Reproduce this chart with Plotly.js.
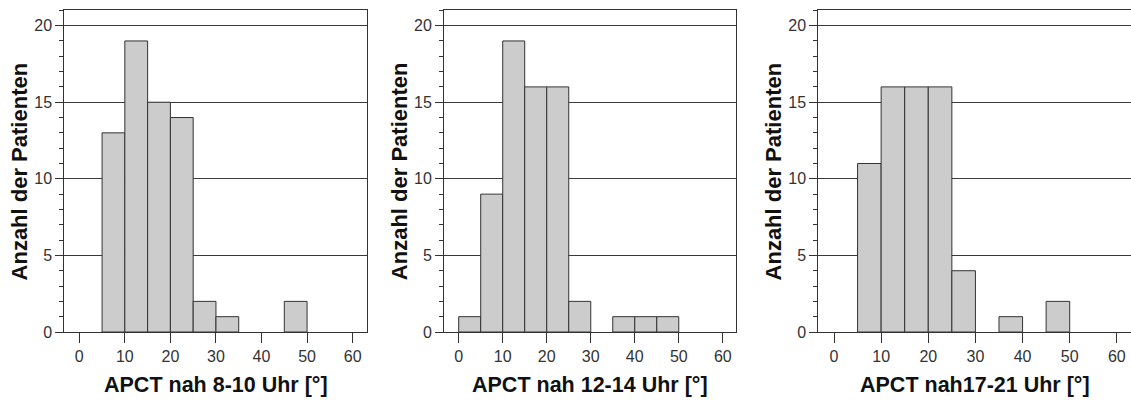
<!DOCTYPE html>
<html>
<head>
<meta charset="utf-8">
<script src="https://cdn.plot.ly/plotly-3.0.1.min.js"></script>
<style>html,body{margin:0;padding:0;background:#fff;}#chart{width:1131px;height:400px;}</style>
</head>
<body>
<div id="chart"></div>
<script>
// Histogram bins (width 5°), centres of each bin
const binCenters = [2.5, 7.5, 12.5, 17.5, 22.5, 27.5, 32.5, 37.5, 42.5, 47.5];
const counts8to10  = [0, 13, 19, 15, 14, 2, 1, 0, 0, 2];
const counts12to14 = [1, 9, 19, 16, 16, 2, 0, 1, 1, 1];
const counts17to21 = [0, 11, 16, 16, 16, 4, 0, 1, 0, 2];
const xTitles = ["APCT nah 8-10 Uhr [°]", "APCT nah 12-14 Uhr [°]", "APCT nah17-21 Uhr [°]"];
const yTitle = "Anzahl der Patienten";
const xTickVals = [0, 10, 20, 30, 40, 50, 60];
const yTickVals = [0, 5, 10, 15, 20];

const W = 1131, H = 400;
const FONT = '"Liberation Sans", Arial, sans-serif';
const panels = [
  {counts: counts8to10,  left: 64.3,  right: 366.7, range: [-3.29, 63.09]},
  {counts: counts12to14, left: 444,   right: 736,   range: [-3.34, 63.0]},
  {counts: counts17to21, left: 818.3, right: 1131,  range: [-3.33, 63.0]}
];
const yDom = [1 - 332 / H, 1 - 10.3 / H];

const data = [];
const layout = {
  width: W, height: H,
  margin: {l: 0, r: 0, t: 0, b: 0},
  paper_bgcolor: '#ffffff', plot_bgcolor: '#ffffff',
  showlegend: false,
  bargap: 0,
  font: {family: FONT, color: '#222'},
  annotations: []
};

panels.forEach((p, i) => {
  const n = i === 0 ? '' : String(i + 1);
  data.push({
    type: 'bar', x: binCenters, y: p.counts.map(c => (c === 0 ? null : c)), width: 5,
    xaxis: 'x' + n, yaxis: 'y' + n,
    marker: {color: '#cccccc', line: {color: '#333333', width: 1}},
    hoverinfo: 'x+y'
  });
  layout['xaxis' + n] = {
    domain: [p.left / W, p.right / W], range: p.range, anchor: 'y' + n,
    tickmode: 'array', tickvals: xTickVals,
    ticks: 'outside', ticklen: 10, tickwidth: 1, tickcolor: '#333',
    showline: true, mirror: true, linecolor: '#333', linewidth: 1,
    showgrid: false, zeroline: false,
    tickfont: {family: FONT, size: 16, color: '#333'}
  };
  layout['yaxis' + n] = {
    domain: yDom, range: [0, 21], anchor: 'x' + n,
    tickmode: 'array', tickvals: yTickVals,
    ticks: 'outside', ticklen: 8, tickwidth: 1, tickcolor: '#333',
    minor: {dtick: 1, tick0: 0, ticks: 'outside', ticklen: 4, tickwidth: 1, tickcolor: '#333', showgrid: false},
    showline: true, mirror: true, linecolor: '#333', linewidth: 1,
    showgrid: true, gridcolor: '#3a3a3a', gridwidth: 1, zeroline: false,
    tickfont: {family: FONT, size: 16, color: '#333'}
  };
  layout.annotations.push({
    text: '<b>' + xTitles[i] + '</b>', showarrow: false,
    xref: 'x' + n + ' domain', x: 0.5, yref: 'paper', y: 1 - 385 / H,
    xanchor: 'center', yanchor: 'middle',
    font: {family: FONT, size: 21.5, color: '#111'}
  });
  layout.annotations.push({
    text: '<b>' + yTitle + '</b>', showarrow: false, textangle: -90,
    xref: 'x' + n + ' domain', x: 0, xshift: -45, yref: 'y' + n + ' domain', y: 0.5,
    xanchor: 'center', yanchor: 'middle',
    font: {family: FONT, size: 22, color: '#111'}
  });
});

Plotly.newPlot('chart', data, layout, {displayModeBar: false, staticPlot: true});
</script>
</body>
</html>
